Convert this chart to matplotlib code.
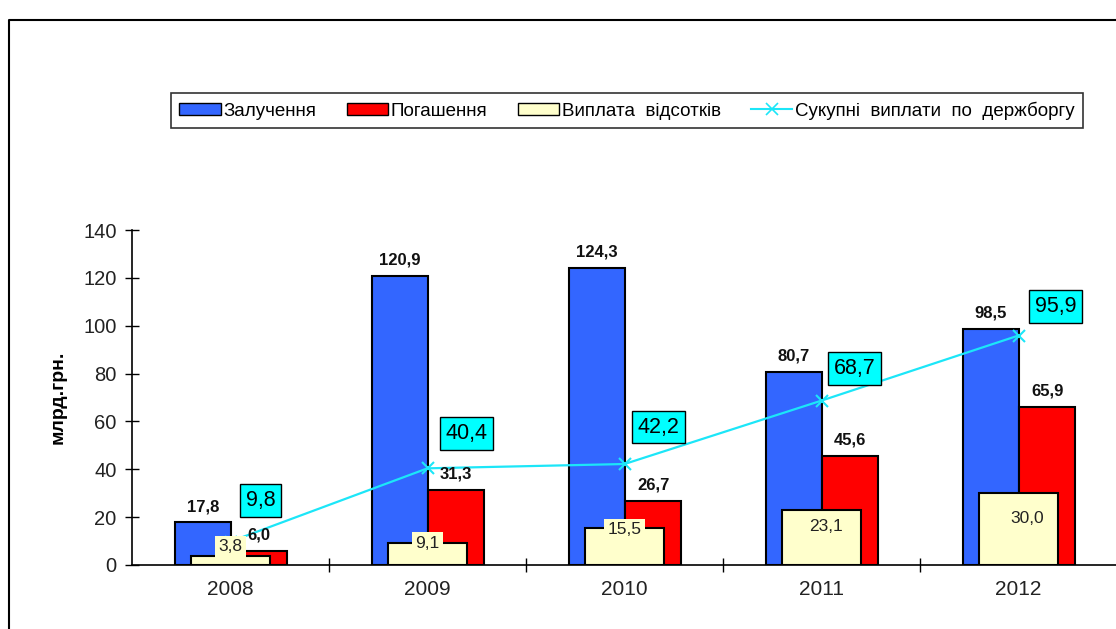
import matplotlib
matplotlib.use('Agg')
from matplotlib import pyplot as plt
from matplotlib.lines import Line2D
from matplotlib.patches import Patch
import numpy as np

plt.rcParams['font.family'] = ['Liberation Sans', 'DejaVu Sans']

years = ['2008', '2009', '2010', '2011', '2012']
zaluchennia = [17.8, 120.9, 124.3, 80.7, 98.5]      # Залучення
pohashennia = [6.0, 31.3, 26.7, 45.6, 65.9]         # Погашення
vidsotky = [3.8, 9.1, 15.5, 23.1, 30.0]             # Виплата відсотків
sukupni = [9.8, 40.4, 42.2, 68.7, 95.9]             # Сукупні виплати по держборгу

legend_labels = ['Залучення', 'Погашення', 'Виплата  відсотків',
                 'Сукупні  виплати  по  держборгу']

# зсуви підписів (у точках)
yellow_off = [(0, 6.5), (0, 0), (0, -1.5), (3, -12), (6, -18)]
cyan_off = [(21.6, 29.5), (28, 25), (24.5, 26.6), (23.8, 23), (26.6, 21)]

blue = '#3366FF'
red = '#FF0000'
yellow = '#FFFFCC'
cyan = '#1CE6F8'


def fmt(v):
    return '{:.1f}'.format(v).replace('.', ',')


fig = plt.figure(figsize=(11.16, 6.29), dpi=100)
ax = fig.add_axes([132 / 1116, 64 / 629, 985 / 1116, 335 / 629])

x = np.arange(len(years))
ax.bar(x - 0.14, zaluchennia, 0.285, color=blue, edgecolor='black', linewidth=1.5, zorder=2)
ax.bar(x + 0.145, pohashennia, 0.285, color=red, edgecolor='black', linewidth=1.5, zorder=2)
ax.bar(x, vidsotky, 0.40, color=yellow, edgecolor='black', linewidth=1.5, zorder=3)
ax.plot(x, sukupni, color=cyan, linewidth=1.6, marker='x', markersize=8,
        markeredgewidth=1.5, zorder=5)

for i in range(len(years)):
    ax.annotate(fmt(zaluchennia[i]), (x[i] - 0.14, zaluchennia[i]), xytext=(0, 6),
                textcoords='offset points', ha='center', va='bottom',
                fontsize=12, fontweight='bold', color='#111111', zorder=6)
    ax.annotate(fmt(pohashennia[i]), (x[i] + 0.145, pohashennia[i]), xytext=(0, 6),
                textcoords='offset points', ha='center', va='bottom',
                fontsize=12, fontweight='bold', color='#111111', zorder=6)
    ax.annotate(fmt(vidsotky[i]), (x[i], vidsotky[i]), xytext=yellow_off[i],
                textcoords='offset points', ha='center', va='center', fontsize=12.5,
                color='#222222', zorder=6,
                bbox=dict(boxstyle='square,pad=0.2', facecolor=yellow, edgecolor='none'))
    ax.annotate(fmt(sukupni[i]), (x[i], sukupni[i]), xytext=cyan_off[i],
                textcoords='offset points', ha='center', va='center', fontsize=15.5,
                zorder=7,
                bbox=dict(boxstyle='square,pad=0.27', facecolor='#00FFFF',
                          edgecolor='black', linewidth=1))

ax.set_xlim(-0.5, len(years) - 0.5)
ax.set_ylim(0, 140)
ax.set_yticks(range(0, 141, 20))
ax.set_xticks(x)
ax.set_xticklabels(years, fontsize=15, color='#222222')
ax.set_xticks(np.arange(0.5, len(years) - 0.5, 1), minor=True)
ax.tick_params(axis='x', which='major', length=0, pad=11)
ax.tick_params(axis='x', which='minor', direction='inout', length=10, width=1)
ax.tick_params(axis='y', direction='inout', length=10, width=1, labelsize=14.5,
               labelcolor='#222222', pad=6)
for s in ['top', 'right']:
    ax.spines[s].set_visible(False)
ax.spines['left'].set_linewidth(1.2)
ax.spines['bottom'].set_linewidth(1.2)
ax.set_ylabel('млрд.грн.', fontsize=14, fontweight='bold', labelpad=12)

handles = [Patch(facecolor=blue, edgecolor='black'),
           Patch(facecolor=red, edgecolor='black'),
           Patch(facecolor=yellow, edgecolor='black'),
           Line2D([], [], color=cyan, marker='x', markersize=8, markeredgewidth=1.2)]
leg = fig.legend(handles, legend_labels, ncol=4, mode='expand',
                 bbox_to_anchor=(171 / 1116, 1 - 128 / 629, 912 / 1116, 33 / 629),
                 loc='lower left', fontsize=13.5, frameon=True, fancybox=False,
                 edgecolor='black', handlelength=2.2, handleheight=0.6,
                 handletextpad=0.15, borderaxespad=0, borderpad=0.45)
leg.get_frame().set_linewidth(1.2)

# рамка
fig.add_artist(Line2D([9 / 1116, 9 / 1116, 1], [0, 1 - 20 / 629, 1 - 20 / 629],
                      color='black', linewidth=1.5, transform=fig.transFigure))

fig.savefig('out.png', dpi=100)
